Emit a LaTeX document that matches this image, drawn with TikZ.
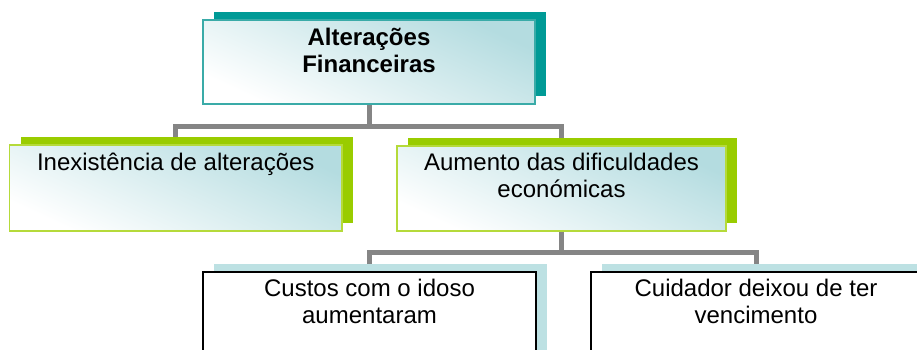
\documentclass[tikz,border=0pt]{standalone}
\usepackage{fontspec}
\setmainfont{Liberation Sans}
\usetikzlibrary{backgrounds}
\definecolor{tealS}{HTML}{009A96}
\definecolor{tealB}{HTML}{3AABA8}
\definecolor{lightT}{HTML}{B4DCE0}
\definecolor{greenS}{HTML}{99CC00}
\definecolor{greenB}{HTML}{B5DA3A}
\definecolor{blueS}{HTML}{BDE1E3}
\definecolor{connG}{HTML}{858585}
\begin{document}
\begin{tikzpicture}[x=1pt,y=-1pt,
  box/.style={rectangle, inner sep=0pt, outer sep=0pt},
  gradbox/.style={box, top color=lightT, middle color=lightT!25, bottom color=white, shading angle=-25},
  tealbox/.style={gradbox, draw=tealB, line width=1.3pt},
  greenbox/.style={gradbox, draw=greenB, line width=1.3pt},
  bluebox/.style={box, fill=white, draw=black, line width=1.5pt},
  lbl/.style={anchor=base, align=center, inner sep=0pt, font=\fontsize{24}{27.5}\selectfont},
  conn/.style={draw=connG, line width=5pt},
  shad/.style={fill=#1}
]
\useasboundingbox (0,0) rectangle (917,349);

\node[tealbox, minimum width=332pt, minimum height=84pt] (top) at (369,62) {};
\node[greenbox, minimum width=332.5pt, minimum height=86pt] (b1) at (175.75,188) {};
\node[greenbox, minimum width=329pt, minimum height=85pt] (b2) at (561.5,188.5) {};
\node[bluebox, minimum width=333pt, minimum height=86pt] (b3) at (369.5,315) {};
\node[bluebox, minimum width=330pt, minimum height=86pt] (b4) at (756,315) {};

\node[lbl, font=\fontsize{24}{27.5}\selectfont\bfseries] (t0) at ([yshift=-52.5pt]top.north) {Alterações\\Financeiras};
\node[lbl] (t1) at ([yshift=-25pt]b1.north) {Inexistência de alterações};
\node[lbl] (t2) at ([yshift=-51.5pt]b2.north) {Aumento das dificuldades\\económicas};
\node[lbl] (t3) at ([yshift=-51.5pt]b3.north) {Custos com o idoso\\aumentaram};
\node[lbl] (t4) at ([yshift=-51.5pt]b4.north) {Cuidador deixou de ter\\vencimento};

\begin{scope}[on background layer]
  \draw[conn] (top.south) -- ++(0,22) -| (b1.north);
  \draw[conn] (top.south) -- ++(0,22) -| (b2.north);
  \draw[conn] (b2.south) -- ++(0,21) -| (b3.north);
  \draw[conn] (b2.south) -- ++(0,21) -| (b4.north);
  \foreach \n/\c in {top/tealS, b1/greenS, b2/greenS, b3/blueS, b4/blueS}{
    \fill[shad=\c] ([shift={(11pt,8pt)}]\n.south west) rectangle ([shift={(11pt,8pt)}]\n.north east);
  }
\end{scope}
\end{tikzpicture}
\end{document}
